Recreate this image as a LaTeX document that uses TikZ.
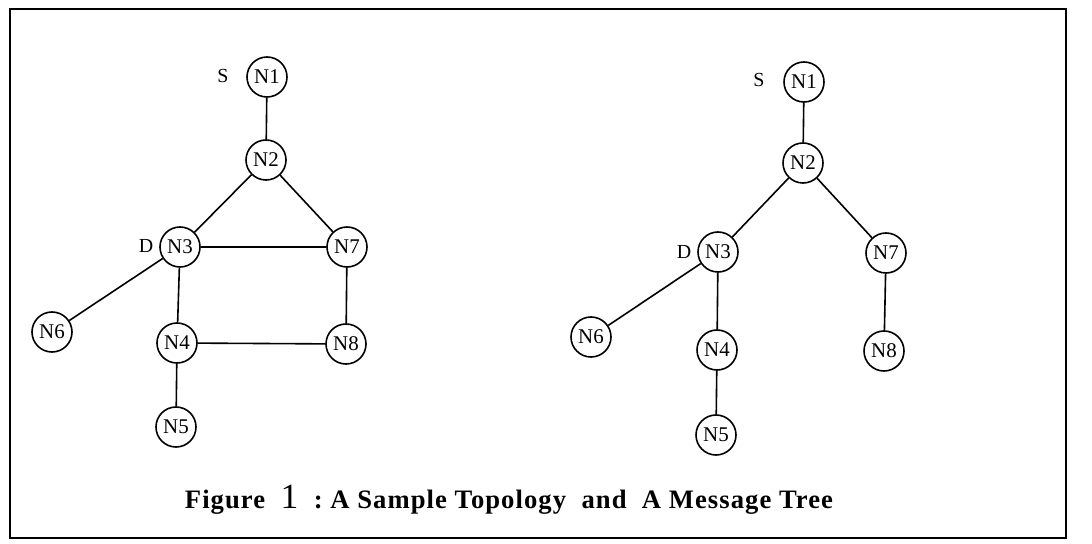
\documentclass[tikz,border=0pt]{standalone}
\usepackage{fontspec}
\setmainfont{Liberation Serif}
\newfontfamily\capfont[LetterSpace=4]{Liberation Serif}
\begin{document}
\begin{tikzpicture}[x=1bp,y=-1bp,
  nd/.style={draw,circle,line width=1.6bp,minimum size=40bp,inner sep=0pt,font=\fontsize{21}{21}\selectfont},
  lbl/.style={font=\fontsize{20}{20}\selectfont,inner sep=0pt},
  edge/.style={line width=1.6bp}]
\useasboundingbox (0,0) rectangle (1092,544);
\draw[line width=1.8bp] (10,9) rectangle (1066,538);
% left topology
\node[nd] (a1) at (267,77) {N1};
\node[nd] (a2) at (266,160) {N2};
\node[nd] (a3) at (180,247) {N3};
\node[nd] (a7) at (347,247) {N7};
\node[nd] (a6) at (52,332) {N6};
\node[nd] (a4) at (177,343) {N4};
\node[nd] (a8) at (346,344) {N8};
\node[nd] (a5) at (176,427) {N5};
\node[lbl] (aS) at (223,76) {S};
\node[lbl] (aD) at (146,246) {D};
\draw[edge] (a1) -- (a2);
\draw[edge] (a2) -- (a3);
\draw[edge] (a2) -- (a7);
\draw[edge] (a3) -- (a7);
\draw[edge] (a3) -- (a6);
\draw[edge] (a3) -- (a4);
\draw[edge] (a7) -- (a8);
\draw[edge] (a4) -- (a8);
\draw[edge] (a4) -- (a5);
% right message tree
\node[nd] (b1) at (804,82) {N1};
\node[nd] (b2) at (803,163) {N2};
\node[nd] (b3) at (718,252) {N3};
\node[nd] (b7) at (886,253) {N7};
\node[nd] (b6) at (591,337) {N6};
\node[nd] (b4) at (717,350) {N4};
\node[nd] (b8) at (884,351) {N8};
\node[nd] (b5) at (716,435) {N5};
\node[lbl] (bS) at (759,80) {S};
\node[lbl] (bD) at (684,252) {D};
\draw[edge] (b1) -- (b2);
\draw[edge] (b2) -- (b3);
\draw[edge] (b2) -- (b7);
\draw[edge] (b3) -- (b6);
\draw[edge] (b3) -- (b4);
\draw[edge] (b7) -- (b8);
\draw[edge] (b4) -- (b5);
% caption
\node[inner sep=0pt] (cap) at (509,500) {\resizebox{648bp}{!}{\capfont\bfseries\fontsize{18}{18}\selectfont Figure~~{\mdseries\fontsize{24}{24}\selectfont 1}~~:~A~Sample~Topology~~and~~A~Message~Tree}};
\end{tikzpicture}
\end{document}
